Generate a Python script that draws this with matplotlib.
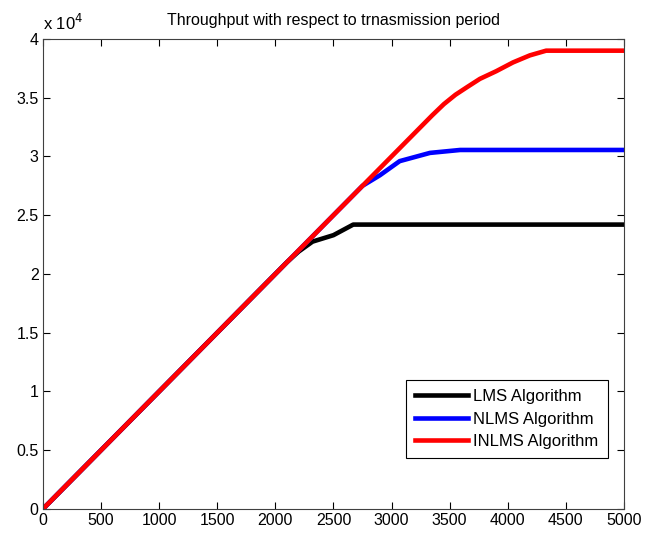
import matplotlib.pyplot as plt

plt.rcParams['font.family'] = ['Liberation Sans', 'DejaVu Sans']

lms_x = [0, 2100, 2200, 2320, 2500, 2670, 5000]
lms_y = [0, 21000, 21900, 22750, 23300, 24200, 24200]

nlms_x = [0, 2600, 2750, 2900, 3070, 3330, 3590, 5000]
nlms_y = [0, 26000, 27500, 28400, 29600, 30300, 30550, 30550]

inlms_x = [0, 3350, 3450, 3550, 3650, 3760, 3900, 4045, 4190, 4330, 5000]
inlms_y = [0, 33500, 34450, 35250, 35900, 36600, 37250, 38000, 38600, 39000, 39000]

fig = plt.figure(figsize=(6.5, 5.36), dpi=100)
ax = fig.add_axes([0.066, 0.0504, 0.894, 0.877])

ax.plot(lms_x, lms_y, color='black', lw=3.3, label='LMS Algorithm')
ax.plot(nlms_x, nlms_y, color='blue', lw=3.3, label='NLMS Algorithm')
ax.plot(inlms_x, inlms_y, color='red', lw=3.3, label='INLMS Algorithm')

ax.set_xlim(0, 5000)
ax.set_ylim(0, 40000)
ax.set_xticks(range(0, 5001, 500))
ax.set_yticks([i * 5000 for i in range(9)])
ax.set_yticklabels(['0', '0.5', '1', '1.5', '2', '2.5', '3', '3.5', '4'])
ax.tick_params(direction='in', top=True, right=True, labelsize=11.5, length=5, pad=3)
for s in ax.spines.values():
    s.set_color('#404040')

ax.text(0.0, 1.012, r'x 10$^4$', transform=ax.transAxes, fontsize=12, va='bottom')
ax.set_title('Throughput with respect to trnasmission period', fontsize=11.5, pad=10)

leg = ax.legend(loc='lower right', bbox_to_anchor=(0.972, 0.108), fontsize=12,
                fancybox=False, framealpha=1, edgecolor='black', handlelength=3.2,
                borderaxespad=0, labelspacing=0.45, handletextpad=0.3, borderpad=0.55)
leg.get_frame().set_linewidth(0.8)

fig.savefig('out.png', dpi=100)
